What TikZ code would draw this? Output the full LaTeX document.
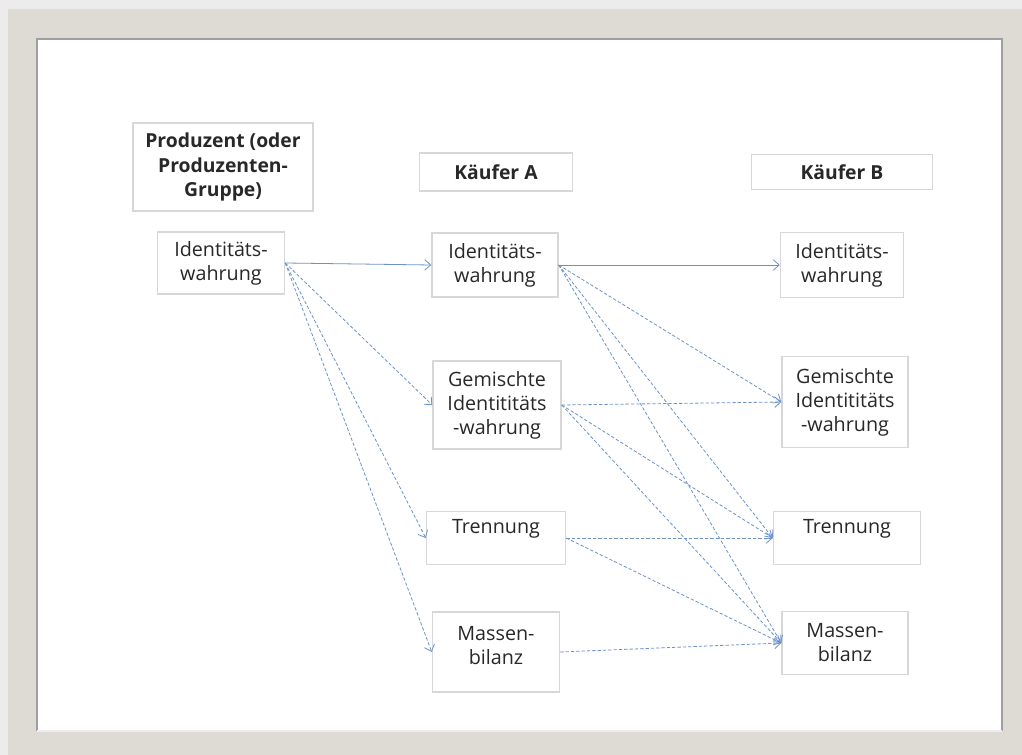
\documentclass[tikz,border=0pt]{standalone}
\usepackage{fontspec}
\setmainfont{Open Sans}
\usetikzlibrary{arrows.meta}

\definecolor{framebeige}{RGB}{221,219,212}
\definecolor{frameshade}{RGB}{236,236,236}
\definecolor{boxline}{RGB}{215,215,215}
\definecolor{arrowblue}{RGB}{108,146,200}
\definecolor{labeltext}{RGB}{40,40,40}

\begin{document}
\begin{tikzpicture}[x=0.75pt,y=-0.75pt,
    box/.style={draw=boxline, line width=1.1pt, fill=white, align=center,
      inner sep=1pt, text=labeltext, font=\fontsize{14.8}{18}\selectfont},
    headbox/.style={box, font=\fontsize{14.5}{18.5}\selectfont\bfseries},
    flow/.style={arrowblue, line width=0.6pt,
      -{Straight Barb[length=4.5pt,width=8pt]}},
    maybe/.style={flow, dash pattern=on 2.5pt off 1.5pt}]

    % Define the columns (pixel units of the frame)
    \def\xprod{221}   % producer column
    \def\xa{496}      % buyer A column
    \def\xb{845}      % buyer B column

    % -- Frame round the picture --
    \useasboundingbox (0,0) rectangle (1022,755);
    \fill[frameshade] (0,0) rectangle (1022,755);
    \fill[framebeige] (8,9) rectangle (1022,755);
    \fill[white] (37,39) rectangle (1002,731);
    \draw[gray!75, line width=1.5pt] (37,731) -- (37,39) -- (1002,39) -- (1002,731);
    \draw[gray!15, line width=1pt] (37,731) -- (1002,731);

    % -- Column heads --
    \node[headbox, minimum width=135pt, minimum height=66pt] (prod) at (223,167)
      {Produzent (oder\\Produzenten-\\Gruppe)};
    \node[headbox, minimum width=114.75pt, minimum height=28.5pt] (buyerA) at (\xa,172) {Käufer A};
    \node[headbox, minimum width=135.75pt, minimum height=26.25pt] (buyerB) at (842,172) {Käufer B};

    % -- Producer --
    \node[box, minimum width=95.25pt, minimum height=46.5pt] (prodId) at (\xprod,263) {Identitäts-\\wahrung};

    % -- Buyer A --
    \node[box, minimum width=94.5pt, minimum height=48pt] (aId) at (495,265) {Identitäts-\\wahrung};
    \node[box, minimum width=96pt, minimum height=66pt] (aMix) at (497,405) {Gemischte\\Identititäts\\-wahrung};
    \node[box, minimum width=104.25pt, minimum height=39.75pt, text depth=18pt] (aSep) at (\xa,538) {Trennung};
    \node[box, minimum width=95.25pt, minimum height=60pt, text depth=10pt] (aMass) at (\xa,652) {Massen-\\bilanz};

    % -- Buyer B --
    \node[box, minimum width=92.25pt, minimum height=48.75pt] (bId) at (842,265) {Identitäts-\\wahrung};
    \node[box, minimum width=94.5pt, minimum height=68.25pt] (bMix) at (\xb,402) {Gemischte\\Identititäts\\-wahrung};
    \node[box, minimum width=110.25pt, minimum height=39.75pt, text depth=18pt] (bSep) at (847,538) {Trennung};
    \node[box, minimum width=94.5pt, minimum height=47.25pt] (bMass) at (\xb,643) {Massen-\\bilanz};

    % -- Producer to buyer A --
    \draw[flow] (prodId.east) -- (aId.west);
    \draw[maybe] (prodId.east) -- (aMix.west);
    \draw[maybe] (prodId.east) -- (aSep.west);
    \draw[maybe] (prodId.east) -- (aMass.west);

    % -- Buyer A to buyer B --
    \draw[flow] (aId.east) -- (bId.west);
    \draw[maybe] (aId.east) -- (bMix.west);
    \draw[maybe] (aId.east) -- (bSep.west);
    \draw[maybe] (aId.east) -- (bMass.west);
    \draw[maybe] (aMix.east) -- (bMix.west);
    \draw[maybe] (aMix.east) -- (bSep.west);
    \draw[maybe] (aMix.east) -- (bMass.west);
    \draw[maybe] (aSep.east) -- (bSep.west);
    \draw[maybe] (aSep.east) -- (bMass.west);
    \draw[maybe] (aMass.east) -- (bMass.west);

\end{tikzpicture}
\end{document}
